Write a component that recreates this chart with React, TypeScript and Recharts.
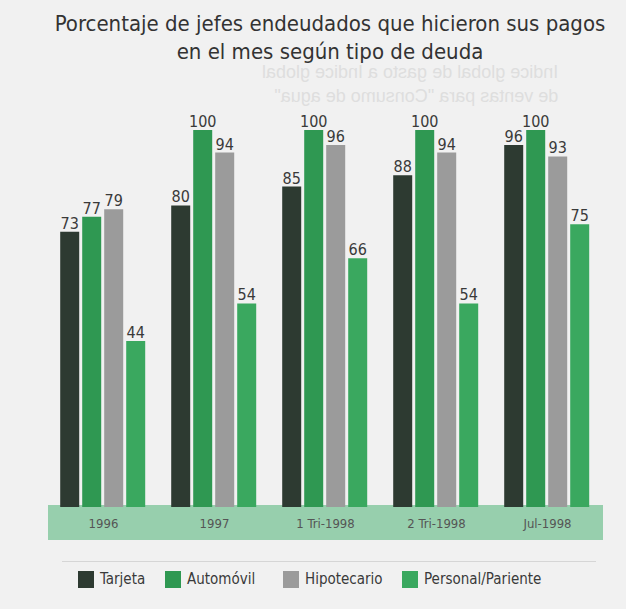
import { Bar, BarChart, LabelList, XAxis, YAxis } from "recharts";

const categories = ["1996", "1997", "1 Tri-1998", "2 Tri-1998", "Jul-1998"];
const tarjeta = [73, 80, 85, 88, 96];
const automovil = [77, 100, 100, 100, 100];
const hipotecario = [79, 94, 96, 94, 93];
const personal = [44, 54, 66, 54, 75];

const seriesNames = ["Tarjeta", "Automóvil", "Hipotecario", "Personal/Pariente"];
const seriesKeys = ["tarjeta", "automovil", "hipotecario", "personal"];
const colors = ["#2d3a31", "#2f9852", "#9b9b9b", "#3aa85f"];

const data = categories.map((name, i) => ({
    name,
    tarjeta: tarjeta[i],
    automovil: automovil[i],
    hipotecario: hipotecario[i],
    personal: personal[i],
}));

const labelFont = "'DejaVu Sans Condensed', 'Liberation Sans', sans-serif";

function ChartLegend() {
    return (
        <div style={{ position: "absolute", left: 0, top: 555, width: 626, height: 50 }}>
            <div
                style={{
                    position: "absolute",
                    left: 62,
                    right: 30,
                    top: 6,
                    borderTop: "1px solid #d6d6d6",
                }}
            />
            {seriesNames.map((name, i) => (
                <div
                    key={name}
                    style={{
                        position: "absolute",
                        left: [78, 165, 283, 402][i],
                        top: 15,
                        display: "flex",
                        alignItems: "center",
                        gap: 6,
                        fontFamily: labelFont,
                        fontSize: 15,
                        color: "#3a3a3a",
                    }}
                >
                    <span style={{ width: 16, height: 17, background: colors[i], display: "inline-block" }} />
                    {name}
                </div>
            ))}
        </div>
    );
}

export default function App() {
    return (
        <div
            style={{
                position: "absolute",
                left: 0,
                top: 0,
                width: 626,
                height: 609,
                background: "#f1f1f1",
                overflow: "hidden",
            }}
        >
            {/* ghost text bleeding through the page */}
            <div
                style={{
                    position: "absolute",
                    left: 262,
                    top: 60,
                    fontFamily: "'Liberation Sans', sans-serif",
                    fontSize: 18,
                    color: "#dedede",
                    lineHeight: "24px",
                    transform: "scaleX(-1)",
                    whiteSpace: "nowrap",
                }}
            >
                Indice global de gasto a Indice global
                <br />
                de ventas para "Consumo de agua"
            </div>
            <div
                style={{
                    position: "absolute",
                    left: 48,
                    top: 505,
                    width: 555,
                    height: 35,
                    background: "#97cfad",
                }}
            />
            <div
                style={{
                    position: "absolute",
                    left: 0,
                    width: 626,
                    top: 10,
                    textAlign: "center",
                    paddingLeft: 34,
                    boxSizing: "border-box",
                    fontFamily: labelFont,
                    fontSize: 22,
                    lineHeight: "28px",
                    color: "#333",
                }}
            >
                Porcentaje de jefes endeudados que hicieron sus pagos
                <br />
                en el mes según tipo de deuda
            </div>
            <div style={{ position: "absolute", left: 0, top: 0 }}>
                <BarChart
                    width={626}
                    height={609}
                    data={data}
                    margin={{ top: 130, right: 23, bottom: 69, left: 48 }}
                    barCategoryGap="11%"
                    barGap={3}
                >
                    <XAxis
                        dataKey="name"
                        axisLine={false}
                        tickLine={false}
                        height={33}
                        tick={{ fontFamily: labelFont, fontSize: 13, fill: "#555" }}
                        tickMargin={6}
                    />
                    <YAxis hide domain={[0, 100]} />
                    {seriesKeys.map((key, i) => (
                        <Bar key={key} dataKey={key} name={seriesNames[i]} fill={colors[i]} isAnimationActive={false}>
                            <LabelList
                                dataKey={key}
                                position="top"
                                offset={3}
                                style={{ fontFamily: labelFont, fontSize: 16, fill: "#3a3a3a" }}
                            />
                        </Bar>
                    ))}
                </BarChart>
            </div>
            <ChartLegend />
        </div>
    );
}
